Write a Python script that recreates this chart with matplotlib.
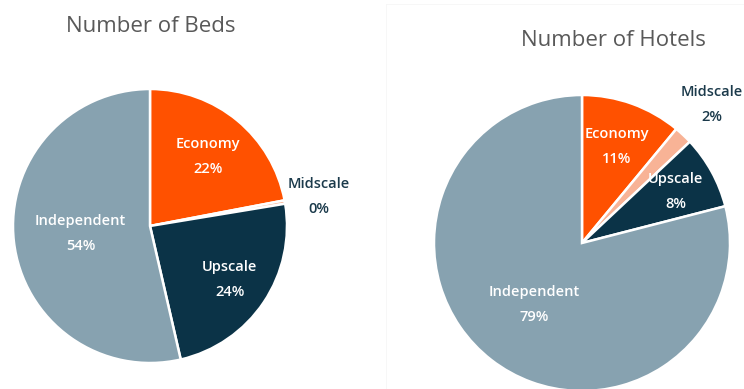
import numpy as np
import matplotlib.pyplot as plt
from matplotlib.lines import Line2D

plt.rcParams['font.family'] = ['Open Sans', 'DejaVu Sans']

segments = ["Economy", "Midscale", "Upscale", "Independent"]
beds_share = [22, 0.4, 24, 53.6]
hotels_share = [11, 2, 8, 79]

colors = ["#FF5100", "#F8B396", "#0B3347", "#87A2B0"]
text_colors = ["white", "#1B3A4B", "white", "white"]

W, H = 744, 389
fig = plt.figure(figsize=(W / 100, H / 100), dpi=100)
ax = fig.add_axes([0, 0, 1, 1])
ax.set_xlim(0, W)
ax.set_ylim(0, H)
ax.set_aspect('equal')
ax.axis('off')

# faint panel divider
fig.add_artist(Line2D([386 / W, 386 / W], [0, 1 - 4 / H], color="#f6f6f6", lw=0.6))
fig.add_artist(Line2D([386 / W, 1], [1 - 4 / H, 1 - 4 / H], color="#f6f6f6", lw=0.6))


def draw_pie(values, center, radius, title, title_xy, dist):
    wedges, _ = ax.pie(values, colors=colors, startangle=90, counterclock=False,
                       center=center, radius=radius, normalize=True,
                       wedgeprops=dict(edgecolor="white", linewidth=1.8))
    total = sum(values)
    for i, w in enumerate(wedges):
        mid = np.deg2rad((w.theta1 + w.theta2) / 2)
        d = dist[i] * radius
        x = center[0] + d * np.cos(mid)
        y = center[1] + d * np.sin(mid)
        pct = round(values[i] / total * 100)
        ax.text(x, y + 12.5, segments[i], ha='center', va='center',
                color=text_colors[i], fontsize=10.5, fontweight='semibold')
        ax.text(x, y - 12.5, f"{pct}%", ha='center', va='center',
                color=text_colors[i], fontsize=10.5, fontweight='semibold')
    ax.text(title_xy[0], title_xy[1], title, ha='center', va='center',
            color="#595959", fontsize=16)


draw_pie(beds_share, (150, H - 226), 137, "Number of Beds", (151, H - 26),
         [0.66, 1.25, 0.70, 0.51])
draw_pie(hotels_share, (582, H - 243), 148, "Number of Hotels", (613, H - 40),
         [0.69, 1.28, 0.72, 0.53])

ax.set_xlim(0, W)
ax.set_ylim(0, H)

fig.savefig("out.png", dpi=100, facecolor="white")
